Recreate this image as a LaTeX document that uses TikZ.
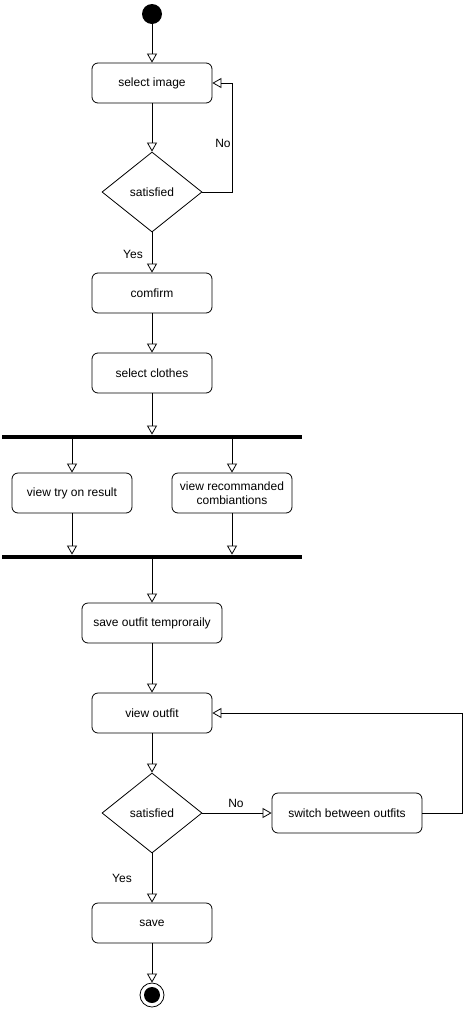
\documentclass[tikz,border=0pt]{standalone}
\usepackage{fontspec}
\setmainfont{Liberation Sans}
\usetikzlibrary{arrows.meta}
\usetikzlibrary{shapes.geometric}
\tikzset{>={Triangle[open,length=9pt,width=10pt]}}
\tikzset{
  act/.style={draw, rounded corners=6pt, minimum width=120pt, minimum height=40pt,
    inner sep=2pt, align=center, font=\fontsize{12}{14}\selectfont},
  decide/.style={draw, diamond, minimum width=100pt, minimum height=80pt, inner sep=0pt,
    font=\fontsize{12}{14}\selectfont},
  bar/.style={fill=black, minimum width=300pt, minimum height=4pt, inner sep=0pt},
  initial/.style={circle, fill=black, minimum size=20pt, inner sep=0pt},
  lbl/.style={font=\fontsize{12}{14}\selectfont},
  flow/.style={->, line width=0.8pt}
}

\begin{document}
\begin{tikzpicture}[x=1pt, y=-1pt, line width=0.8pt]
            \useasboundingbox (0,0) rectangle (473,1010);

            % start
            \node[initial] (init) at (152,14) {};
            \node[act] (img) at (152,83) {select image};
            \node[decide] (sat1) at (152,192) {satisfied};
            \node[act] (confirm) at (152,293) {comfirm};
            \node[act] (clothes) at (152,373) {select clothes};

            \draw[flow] (init) -- (img);
            \draw[flow] (img) -- (sat1);
            \draw[flow] (sat1.east) -- ++(30,0) |- (img.east);
            \node[lbl] (no1) at (223,143) {No};
            \draw[flow] (sat1) -- (confirm);
            \node[lbl] (yes1) at (133,254) {Yes};
            \draw[flow] (confirm) -- (clothes);

            % fork
            \node[bar] (fork) at (152,437) {};
            \node[act] (tryon) at (72,493) {view try on result};
            \node[act] (recom) at (232,493) {view recommanded\\combiantions};
            \node[bar] (join) at (152,557) {};

            \draw[flow] (clothes) -- (fork);
            \draw[flow] (fork.south -| tryon.north) -- (tryon);
            \draw[flow] (fork.south -| recom.north) -- (recom);
            \draw[flow] (tryon) -- (tryon.south |- join.north);
            \draw[flow] (recom) -- (recom.south |- join.north);

            % outfit
            \node[act, minimum width=140pt] (savetmp) at (152,623) {save outfit temproraily};
            \node[act] (outfit) at (152,713) {view outfit};
            \node[decide] (sat2) at (152,813) {satisfied};
            \node[act, minimum width=150pt] (switch) at (347,813) {switch between outfits};
            \node[act] (save) at (152,923) {save};

            \draw[flow] (join) -- (savetmp);
            \draw[flow] (savetmp) -- (outfit);
            \draw[flow] (outfit) -- (sat2);
            \draw[flow] (sat2) -- (switch);
            \node[lbl] (no2) at (236,803) {No};
            \draw[flow] (switch.east) -- ++(40,0) |- (outfit.east);
            \draw[flow] (sat2) -- (save);
            \node[lbl] (yes2) at (122,878) {Yes};

            % end
            \node[circle, draw, minimum size=24pt, inner sep=0pt] (final) at (152,995) {};
            \node[initial, minimum size=16pt] (finaldot) at (final) {};
            \draw[flow] (save) -- (final);
        \end{tikzpicture}
\end{document}
